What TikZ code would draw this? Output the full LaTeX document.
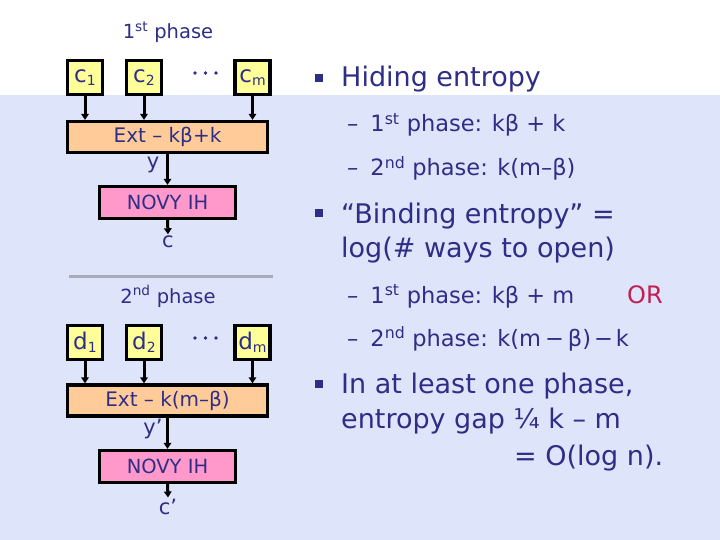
\documentclass[tikz,border=0pt]{standalone}
\usepackage{fontspec}
\setmainfont{DejaVu Sans}
\usetikzlibrary{arrows.meta}
\definecolor{bg}{HTML}{DEE4FA}
\definecolor{navy}{HTML}{2E2E86}
\definecolor{boxyellow}{HTML}{FFFF99}
\definecolor{boxorange}{HTML}{FFCC99}
\definecolor{boxpink}{HTML}{FF99CC}
\definecolor{sepgray}{HTML}{A8ABBA}
\definecolor{orred}{HTML}{C21E52}
\newcommand{\fs}[1]{\fontsize{#1}{#1}\selectfont}
\newcommand{\sub}[1]{\raisebox{-3.5pt}{\fs{14}#1}}
\begin{document}
\begin{tikzpicture}[x=1pt,y=-1pt,
  inbox/.style={draw=black,line width=3.2pt,fill=boxyellow,minimum width=35pt,minimum height=34pt,inner sep=0pt,font=\fs{23},text=navy},
  extbox/.style={draw=black,line width=3.2pt,fill=boxorange,minimum width=200pt,minimum height=31pt,inner sep=0pt,font=\fs{20},text=navy},
  novybox/.style={draw=black,line width=3.2pt,fill=boxpink,minimum width=136pt,minimum height=32pt,inner sep=0pt,font=\fs{19.5},text=navy},
  lbl/.style={font=\fs{21},text=navy,inner sep=1.5pt},
  arr/.style={-{Triangle[length=6pt,width=7.5pt]},line width=3pt,black},
  bul/.style={rectangle,fill=navy,minimum size=8pt,inner sep=0pt},
  big/.style={anchor=base west,inner sep=0pt,font=\fs{27},text=navy},
  small/.style={anchor=base west,inner sep=0pt,font=\fs{22.5},text=navy},
  phase/.style={anchor=base,inner sep=0pt,font=\fs{19.5},text=navy}]
\useasboundingbox (0,0) rectangle (720,540);
\fill[white] (0,0) rectangle (720,95);
\fill[bg] (0,95) rectangle (720,540);

% first phase
\node[phase] (ph1) at (168,39) {1\textsuperscript{st} phase};
\node[inbox] (c1) at (85,77.5) {c\sub{1}};
\node[inbox] (c2) at (144,77.5) {c\sub{2}};
\node[inbox] (cm) at (252.5,77.5) {c\sub{m}};
\foreach \xx in {195,205.5,216} \fill[navy] (\xx,73) circle (1.8pt);
\node[extbox] (ext1) at (167.5,137) {Ext – kβ+k};
\node[novybox] (novy1) at (167.5,202.5) {NOVY IH};
\node[lbl] (y1) at (153,165) {y};
\node[lbl] (cout1) at (168,242) {c};
\draw[arr] (c1) -- (c1 |- ext1.north);
\draw[arr] (c2) -- (c2 |- ext1.north);
\draw[arr] (cm) -- (cm |- ext1.north);
\draw[arr] (ext1.south -| novy1) -- (novy1.north);
\draw[arr] (novy1.south) -- (cout1.north);

\coordinate (sepL) at (69,276);
\coordinate (sepR) at (273,276);
\draw[sepgray,line width=3pt] (sepL) -- (sepR);

% second phase
\node[phase] (ph2) at (168,303) {2\textsuperscript{nd} phase};
\node[inbox] (d1) at (85,342.5) {d\sub{1}};
\node[inbox] (d2) at (144,342.5) {d\sub{2}};
\node[inbox] (dm) at (252.5,342.5) {d\sub{m}};
\foreach \xx in {195,205.5,216} \fill[navy] (\xx,338) circle (1.8pt);
\node[extbox] (ext2) at (167.5,400.5) {Ext – k(m–β)};
\node[novybox] (novy2) at (167.5,466.5) {NOVY IH};
\node[lbl] (y2) at (153,429) {y’};
\node[lbl] (cout2) at (168,507) {c’};
\draw[arr] (d1) -- (d1 |- ext2.north);
\draw[arr] (d2) -- (d2 |- ext2.north);
\draw[arr] (dm) -- (dm |- ext2.north);
\draw[arr] (ext2.south -| novy2) -- (novy2.north);
\draw[arr] (novy2.south) -- (cout2.north);

% right text
\node[bul] (b1) at (319,78) {};
\node[big] (t1) at (341,87) {Hiding entropy};
\node[small] (t11) at (347,132) {–\hspace{12pt}1\textsuperscript{st} phase: kβ + k};
\node[small] (t12) at (347,176) {–\hspace{12pt}2\textsuperscript{nd} phase: k(m–β)};
\node[bul] (b2) at (319,213) {};
\node[big] (t2) at (341,223) {“Binding entropy” =};
\node[big] (t2b) at (341,257) {log(\# ways to open)};
\node[small] (t21) at (347,303) {–\hspace{12pt}1\textsuperscript{st} phase: kβ + m};
\node[anchor=base west,inner sep=0pt,font=\fs{24},text=orred] (or) at (627,303) {OR};
\node[small] (t22) at (347,346) {–\hspace{12pt}2\textsuperscript{nd} phase: k(m\hspace{4pt}−\hspace{4pt}β)\hspace{3pt}−\hspace{3pt}k};
\node[bul] (b3) at (319,384) {};
\node[big] (t3) at (341,393) {In at least one phase,};
\node[big] (t3b) at (341,428) {entropy gap ¼ k – m};
\node[big] (t3c) at (514,465) {= O(log n).};
\end{tikzpicture}
\end{document}
